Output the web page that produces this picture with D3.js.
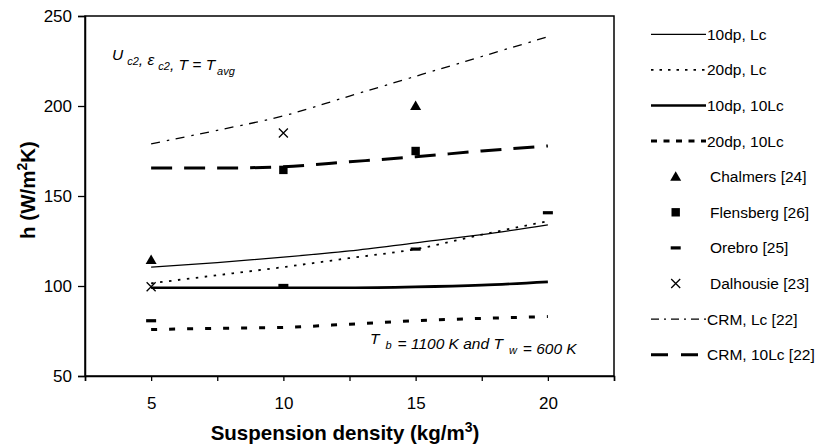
<!DOCTYPE html>
<html>
<head>
<meta charset="utf-8">
<script src="https://cdn.jsdelivr.net/npm/d3@7"></script>
<style>
  body { margin: 0; background: #fff; }
  text { font-family: "Liberation Sans", Arial, sans-serif; fill: #000; }
</style>
</head>
<body>
<script>
// x positions shared by every model curve
var density = [5, 7.5, 10, 12.5, 15, 17.5, 20]

// model curves, h in W/m2K
var dp10Lc    = [110.5, 113, 116, 119.5, 124, 128.5, 134]
var dp20Lc    = [101.5, 106, 110.5, 115.5, 120.5, 128.5, 136]
var dp10Lc10  = [99, 99, 99, 99, 99.5, 100.5, 102.3]
var dp20Lc10  = [75.8, 76.5, 77, 78.8, 80.7, 82, 83]
var crmLc     = [179, 186.5, 194.5, 205.5, 216.5, 227.5, 238.5]
var crmLc10   = [165.5, 165.5, 166.3, 169, 171.8, 175, 177.8]

// measured points [density, h]
var chalmers  = [[5, 114.5], [15, 200]]
var flensberg = [[10, 164.5], [15, 175]]
var orebro    = [[5, 80.7], [10, 100.3], [15, 120.5], [20, 140.7]]
var dalhousie = [[5, 99.6], [10, 185]]

var yTicks = [50, 100, 150, 200, 250]
var xTicks = [2.5, 5, 7.5, 10, 12.5, 15, 17.5, 20, 22.5]

var W = 826, H = 444
var svg = d3.select("body").append("svg")
	.attr("width", W).attr("height", H)

var x = d3.scaleLinear().domain([2.5, 22.5]).range([85, 614])
var y = d3.scaleLinear().domain([50, 250]).range([376, 16])

// frame
svg.append("rect")
	.attr("x", 85).attr("y", 16).attr("width", 529).attr("height", 360)
	.style("fill", "none").style("stroke", "#000").style("stroke-width", 1.5)

// axes
var yAxis = svg.append("g").attr("transform", "translate(85,0)")
	.call(d3.axisLeft(y).tickValues(yTicks).tickSize(7).tickPadding(6))
var xAxis = svg.append("g").attr("transform", "translate(0,376)")
	.call(d3.axisBottom(x).tickValues(xTicks).tickSize(5).tickPadding(16)
		.tickFormat(function(d) { return d % 5 === 0 ? d : "" }))
;[yAxis, xAxis].forEach(function(a) {
	a.select(".domain").style("stroke", "#000").style("stroke-width", 1.5)
	a.selectAll(".tick line").style("stroke", "#000").style("stroke-width", 1.3)
	a.selectAll(".tick text").style("font-size", "17px").style("font-family", "Liberation Sans, Arial, sans-serif")
})

// curves
var series = [
	{ name: "10dp, Lc",        vals: dp10Lc,   w: 1.2, dash: null,        ldash: null },
	{ name: "20dp, Lc",        vals: dp20Lc,   w: 1.8, dash: "2.5,6.5",   ldash: "2.5,6" },
	{ name: "10dp, 10Lc",      vals: dp10Lc10, w: 2.6, dash: null,        ldash: null },
	{ name: "20dp, 10Lc",      vals: dp20Lc10, w: 3,   dash: "6,12",      ldash: "6,6.5" },
	{ name: "CRM, Lc [22]",    vals: crmLc,    w: 1.3, dash: "9,7,2.5,6.5", ldash: "8,5,2,5" },
	{ name: "CRM, 10Lc [22]",  vals: crmLc10,  w: 3,   dash: "21,12",     ldash: "17,13" }
]

var line = d3.line()
	.x(function(d, i) { return x(density[i]) })
	.y(function(d) { return y(d) })
	.curve(d3.curveMonotoneX)

svg.append("g").selectAll("path")
	.data(series).enter().append("path")
	.attr("d", function(d) { return line(d.vals) })
	.style("fill", "none").style("stroke", "#000")
	.style("stroke-width", function(d) { return d.w })
	.style("stroke-dasharray", function(d) { return d.dash })

// markers
function drawMarker(g, type) {
	if (type === "tri") g.append("path").attr("d", "M0,-5.5L5.5,4L-5.5,4Z").style("fill", "#000")
	if (type === "sq") g.append("rect").attr("x", -4.2).attr("y", -4.2).attr("width", 8.4).attr("height", 8.4).style("fill", "#000")
	if (type === "dash") g.append("rect").attr("x", -5).attr("y", -1.6).attr("width", 10).attr("height", 3.2).style("fill", "#000")
	if (type === "x") g.append("path").attr("d", "M-4.5,-4.5L4.5,4.5M-4.5,4.5L4.5,-4.5").style("stroke", "#000").style("stroke-width", 1.3)
}
var pointSets = [
	{ name: "Chalmers [24]",  pts: chalmers,  type: "tri" },
	{ name: "Flensberg [26]", pts: flensberg, type: "sq" },
	{ name: "Orebro [25]",    pts: orebro,    type: "dash" },
	{ name: "Dalhousie [23]", pts: dalhousie, type: "x" }
]
pointSets.forEach(function(s) {
	s.pts.forEach(function(p) {
		var g = svg.append("g").attr("transform", "translate(" + x(p[0]) + "," + y(p[1]) + ")")
		drawMarker(g, s.type)
	})
})

// legend
var legendItems = [
	{ s: series[0] }, { s: series[1] }, { s: series[2] }, { s: series[3] },
	{ p: pointSets[0] }, { p: pointSets[1] }, { p: pointSets[2] }, { p: pointSets[3] },
	{ s: series[4] }, { s: series[5] }
]
var leg = svg.append("g")
legendItems.forEach(function(it, i) {
	var cy = 34.3 + i * 35.6
	if (it.s) {
		leg.append("line").attr("x1", 651).attr("x2", 706).attr("y1", cy).attr("y2", cy)
			.style("stroke", "#000").style("stroke-width", it.s.w)
			.style("stroke-dasharray", it.s.ldash)
		leg.append("text").attr("x", 707).attr("y", cy).attr("dy", "0.35em")
			.style("font-size", "15.5px").text(it.s.name)
	} else {
		var g = leg.append("g").attr("transform", "translate(675.7," + cy + ")")
		drawMarker(g, it.p.type)
		leg.append("text").attr("x", 710).attr("y", cy).attr("dy", "0.35em")
			.style("font-size", "15.5px").text(it.p.name)
	}
})

// axis titles
var yt = svg.append("text").attr("transform", "translate(35,190) rotate(-90)")
	.attr("text-anchor", "middle").style("font-size", "20.5px").style("font-weight", "bold")
yt.append("tspan").text("h (W/m")
yt.append("tspan").attr("dy", -8).style("font-size", "14px").text("2")
yt.append("tspan").attr("dy", 8).text("K)")

var xt = svg.append("text").attr("x", 345).attr("y", 440)
	.attr("text-anchor", "middle").style("font-size", "20.5px").style("font-weight", "bold")
xt.append("tspan").text("Suspension density (kg/m")
xt.append("tspan").attr("dy", -8).style("font-size", "14px").text("3")
xt.append("tspan").attr("dy", 8).text(")")

// annotations
function sub(t, s, dx) {
	t.append("tspan").attr("dx", dx || 0).attr("dy", 5).style("font-size", "11px").text(s)
	t.append("tspan").attr("dy", -5).text("")
}
var a1 = svg.append("text").attr("x", 112).attr("y", 59.5)
	.style("font-size", "15.5px").style("font-style", "italic")
a1.append("tspan").text("U")
sub(a1, "c2", 4)
a1.append("tspan").text(", \u03b5")
sub(a1, "c2", 4)
a1.append("tspan").text(", T = T")
sub(a1, "avg", 2)

var a2 = svg.append("text").attr("x", 370).attr("y", 343.5)
	.style("font-size", "15.5px").style("font-style", "italic")
a2.append("tspan").text("T")
sub(a2, "b", 6)
a2.append("tspan").attr("dx", 6).text("= 1100 K and T")
sub(a2, "w", 6)
a2.append("tspan").attr("dx", 6).text("= 600 K")
</script>
</body>
</html>
